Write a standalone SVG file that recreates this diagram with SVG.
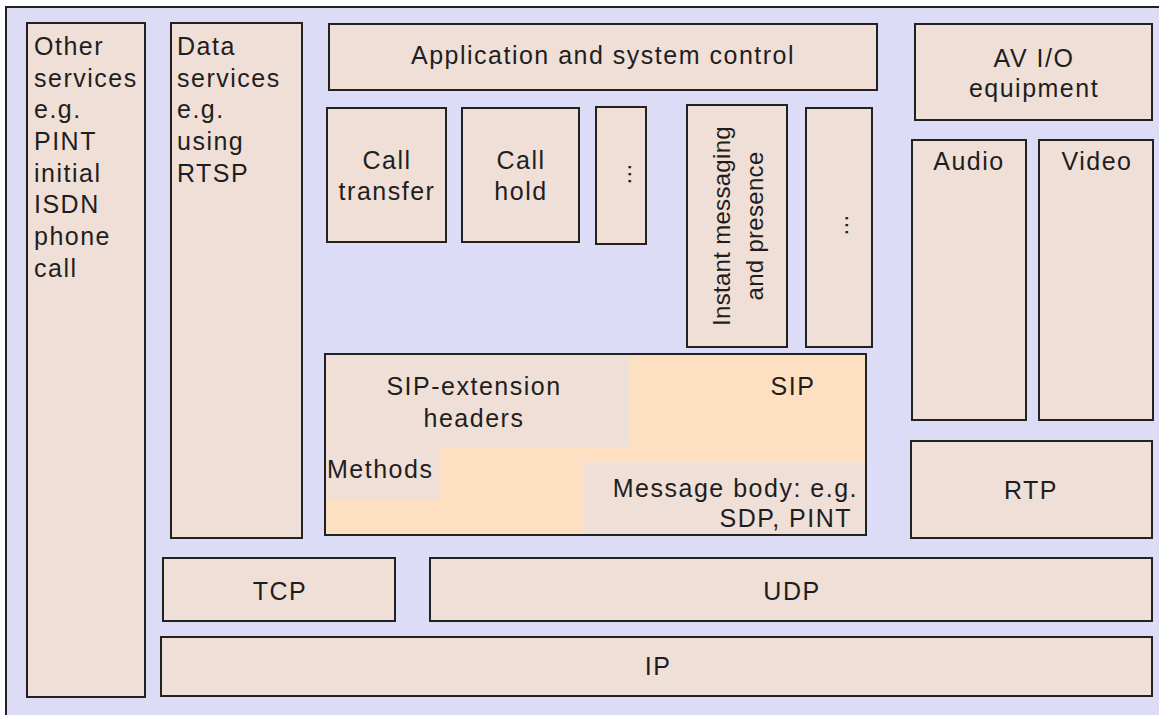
<svg xmlns="http://www.w3.org/2000/svg" width="1159" height="715" viewBox="0 0 1159 715">
  <style>
    .box { fill: #F0DFD7; stroke: #222; stroke-width: 2; }
    .lbl { font-family: "Liberation Sans", Arial, sans-serif; font-size: 25px; letter-spacing: 1.5px; fill: #1e1e1e; }
    .vert { font-size: 24px; letter-spacing: 0.3px; }
    .mid { text-anchor: middle; }
    .end { text-anchor: end; }
    .pink { fill: #F0DFD7; }
    .peach { fill: #FDDFC1; }
  </style>

  <!-- page frame -->
  <rect x="0" y="0" width="1159" height="715" fill="#FFFFFF"/>
  <rect x="6" y="7" width="1153" height="708" fill="#DCDCF7"/>
  <path d="M6 715 V7 H1159" fill="none" stroke="#222" stroke-width="2"/>

  <g id="other-services">
    <rect class="box" x="27" y="23" width="118" height="674"/>
    <text class="lbl">
      <tspan x="34" y="55">Other</tspan>
      <tspan x="34" y="87">services</tspan>
      <tspan x="34" y="118">e.g.</tspan>
      <tspan x="34" y="150">PINT</tspan>
      <tspan x="34" y="182">initial</tspan>
      <tspan x="34" y="213">ISDN</tspan>
      <tspan x="34" y="245">phone</tspan>
      <tspan x="34" y="277">call</tspan>
    </text>
  </g>

  <g id="data-services">
    <rect class="box" x="171" y="23" width="131" height="515"/>
    <text class="lbl">
      <tspan x="177" y="55">Data</tspan>
      <tspan x="177" y="87">services</tspan>
      <tspan x="177" y="118">e.g.</tspan>
      <tspan x="177" y="150">using</tspan>
      <tspan x="177" y="182">RTSP</tspan>
    </text>
  </g>

  <g id="app-control">
    <rect class="box" x="329" y="24" width="548" height="66"/>
    <text class="lbl mid" x="603" y="64">Application and system control</text>
  </g>

  <g id="av-io">
    <rect class="box" x="915" y="24" width="237" height="96"/>
    <text class="lbl mid" x="1034" y="67">AV I/O</text>
    <text class="lbl mid" x="1034" y="97">equipment</text>
  </g>

  <g id="call-transfer">
    <rect class="box" x="327" y="108" width="119" height="134"/>
    <text class="lbl mid" x="387" y="169">Call</text>
    <text class="lbl mid" x="387" y="200">transfer</text>
  </g>

  <g id="call-hold">
    <rect class="box" x="462" y="108" width="117" height="134"/>
    <text class="lbl mid" x="521" y="169">Call</text>
    <text class="lbl mid" x="521" y="200">hold</text>
  </g>

  <g id="more-services-1">
    <rect class="box" x="596" y="107" width="50" height="137"/>
    <text class="lbl vert mid" transform="translate(631 174) rotate(-90)" x="0" y="0">...</text>
  </g>

  <g id="instant-messaging">
    <rect class="box" x="687" y="105" width="100" height="242"/>
    <text class="lbl vert mid" transform="translate(730 226) rotate(-90)" x="0" y="0">Instant messaging</text>
    <text class="lbl vert mid" transform="translate(763 226) rotate(-90)" x="0" y="0">and presence</text>
  </g>

  <g id="more-services-2">
    <rect class="box" x="806" y="108" width="66" height="239"/>
    <text class="lbl vert mid" transform="translate(848 225) rotate(-90)" x="0" y="0">...</text>
  </g>

  <g id="audio">
    <rect class="box" x="912" y="140" width="114" height="280"/>
    <text class="lbl mid" x="969" y="170">Audio</text>
  </g>

  <g id="video">
    <rect class="box" x="1039" y="140" width="114" height="280"/>
    <text class="lbl mid" x="1097" y="170">Video</text>
  </g>

  <g id="sip">
    <rect class="peach" x="325" y="354" width="541" height="181"/>
    <!-- sub-areas inside the SIP block -->
    <rect class="pink" x="325" y="354" width="305" height="93"/>
    <rect class="pink" x="325" y="447" width="115" height="53"/>
    <rect class="pink" x="584" y="462" width="282" height="73"/>
    <rect x="325" y="354" width="541" height="181" fill="none" stroke="#222" stroke-width="2"/>
    <text class="lbl mid" x="474" y="395">SIP-extension</text>
    <text class="lbl mid" x="474" y="427">headers</text>
    <text class="lbl mid" x="793" y="395">SIP</text>
    <text class="lbl" x="327" y="478">Methods</text>
    <text class="lbl end" x="858" y="497">Message body: e.g.</text>
    <text class="lbl end" x="852" y="527">SDP, PINT</text>
  </g>

  <g id="rtp">
    <rect class="box" x="911" y="441" width="241" height="97"/>
    <text class="lbl mid" x="1031" y="499">RTP</text>
  </g>

  <g id="tcp">
    <rect class="box" x="163" y="558" width="232" height="63"/>
    <text class="lbl mid" x="280" y="600">TCP</text>
  </g>

  <g id="udp">
    <rect class="box" x="430" y="558" width="722" height="63"/>
    <text class="lbl mid" x="792" y="600">UDP</text>
  </g>

  <g id="ip">
    <rect class="box" x="161" y="637" width="991" height="59"/>
    <text class="lbl mid" x="658" y="675">IP</text>
  </g>

  <g id="connectors"></g>
</svg>
